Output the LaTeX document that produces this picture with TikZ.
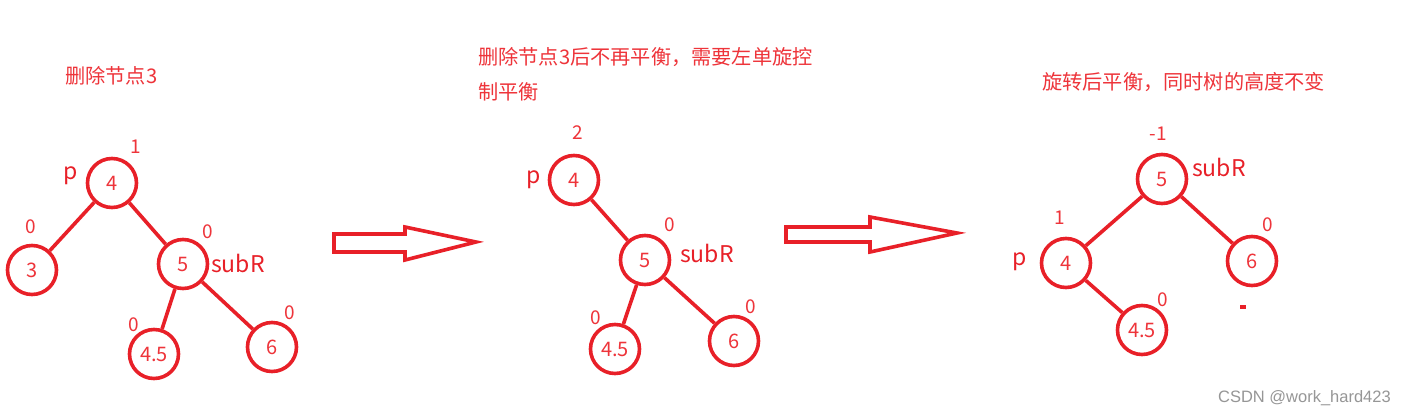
\documentclass[tikz,border=0pt]{standalone}
\usepackage{fontspec}
\setmainfont{Noto Sans CJK SC}
\newfontfamily\wmfont{Liberation Sans}
\definecolor{lred}{RGB}{232,32,40}
\definecolor{tred}{RGB}{238,52,58}
\definecolor{wgray}{RGB}{150,150,150}
\begin{document}
\begin{tikzpicture}[x=1pt,y=-1pt,
  tnode/.style={circle,draw=lred,line width=3.6pt,minimum size=49pt,inner sep=0pt,text=tred,font=\fontsize{20}{22}\selectfont},
  edge/.style={draw=lred,line width=3.6pt},
  bf/.style={text=tred,font=\fontsize{19}{20}\selectfont,inner sep=0pt},
  lbl/.style={text=lred,font=\fontsize{23}{26}\selectfont,inner sep=0pt},
  ttl/.style={text=tred,font=\fontsize{20.2}{35}\selectfont,inner sep=0pt,anchor=west,align=left},
  bigarrow/.style={draw=lred,line width=3.6pt,line join=miter}
]
\useasboundingbox (0,0) rectangle (1406,416);
\fill[white] (0,0) rectangle (1406,416);

% ---------- tree 1 ----------
\node[ttl] (t1) at (65,76) {删除节点3};
\node[tnode] (a4) at (112,183) {4};
\node[tnode] (a3) at (32,270) {3};
\node[tnode] (a5) at (183,264) {5};
\node[tnode] (a45) at (154,354) {4.5};
\node[tnode] (a6) at (272,347) {6};
\draw[edge] (a4) -- (a3);
\draw[edge] (a4) -- (a5);
\draw[edge] (a5) -- (a45);
\draw[edge] (a5) -- (a6);
\node[bf] (ba4) at (136,147) {1};
\node[lbl] (pa) at (71,176) {p};
\node[bf] (ba3) at (31,227) {0};
\node[bf] (ba5) at (208,232) {0};
\node[lbl,anchor=west] (sa) at (211,263) {subR};
\node[bf] (ba45) at (134,325) {0};
\node[bf] (ba6) at (290,313) {0};

% ---------- arrow 1 ----------
\draw[bigarrow] (334,234) -- (405,234) -- (405,227) -- (476,242) -- (405,260) -- (405,252) -- (334,252) -- cycle;

% ---------- tree 2 ----------
\node[ttl,anchor=north west] (t2) at (478,47) {删除节点3后不再平衡，需要左单旋控\\制平衡};
\node[tnode] (b4) at (574,180) {4};
\node[tnode] (b5) at (645,260) {5};
\node[tnode] (b45) at (615,349) {4.5};
\node[tnode] (b6) at (734,341) {6};
\draw[edge] (b4) -- (b5);
\draw[edge] (b5) -- (b45);
\draw[edge] (b5) -- (b6);
\node[bf] (bb4) at (578,133) {2};
\node[lbl] (pb) at (534,180) {p};
\node[bf] (bb5) at (670,225) {0};
\node[lbl,anchor=west] (sb) at (680,253) {subR};
\node[bf] (bb45) at (596,318) {0};
\node[bf] (bb6) at (751,307) {0};

% ---------- arrow 2 ----------
\draw[bigarrow] (786,227) -- (870,227) -- (870,217) -- (957,233) -- (870,252) -- (870,242) -- (786,242) -- cycle;

% ---------- tree 3 ----------
\node[ttl] (t3) at (1042,82) {旋转后平衡，同时树的高度不变};
\node[tnode] (c5) at (1162,179) {5};
\node[tnode] (c4) at (1066,263) {4};
\node[tnode] (c45) at (1142,330) {4.5};
\node[tnode] (c6) at (1252,261) {6};
\draw[edge] (c5) -- (c4);
\draw[edge] (c5) -- (c6);
\draw[edge] (c4) -- (c45);
\node[bf] (bc5) at (1158,134) {-1};
\node[lbl,anchor=west] (sc) at (1192,167) {subR};
\node[bf] (bc4) at (1060,218) {1};
\node[lbl] (pc) at (1020,262) {p};
\node[bf] (bc45) at (1163,300) {0};
\node[bf] (bc6) at (1268,225) {0};
\fill[lred] (1240,305) rectangle (1246,309);

% ---------- watermark ----------
\node[text=wgray,font=\wmfont\fontsize{16.5}{19}\selectfont,anchor=east,inner sep=0pt] (wm) at (1391,398) {CSDN @work\_hard423};
\end{tikzpicture}
\end{document}
